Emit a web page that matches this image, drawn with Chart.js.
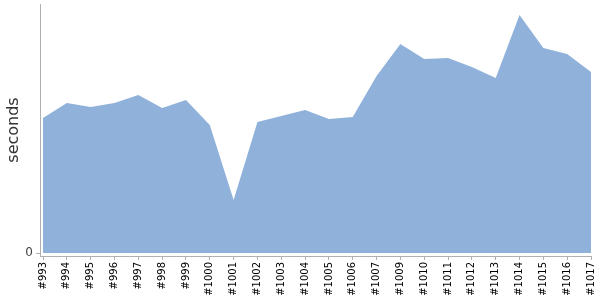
<!DOCTYPE html>
<html>
<head>
<meta charset="utf-8">
<script src="https://cdn.jsdelivr.net/npm/chart.js@4.4.0/dist/chart.umd.min.js"></script>
<style>
  html, body { margin: 0; padding: 0; background: #fff; }
  #wrap { width: 600px; height: 300px; }
</style>
</head>
<body>
<div id="wrap"><canvas id="buildChart"></canvas></div>
<script>
// build numbers (#1008 is missing in the trend)
const builds = ['#993', '#994', '#995', '#996', '#997', '#998', '#999', '#1000', '#1001', '#1002',
  '#1003', '#1004', '#1005', '#1006', '#1007', '#1009', '#1010', '#1011', '#1012', '#1013',
  '#1014', '#1015', '#1016', '#1017']
// duration, seconds
const durations = [135, 150, 146, 150, 158, 145, 153, 128, 53, 131,
  137, 143, 134, 136, 177, 209, 194, 195, 186, 175,
  238, 205, 199, 181]
const yTicks = [0]

const axisGray = '#b0b0b0'

new Chart(document.getElementById('buildChart'), {
  type: 'line',
  data: {
    datasets: [{
      data: durations.map((v, i) => ({ x: i, y: v })),
      backgroundColor: '#8fb1da',
      borderWidth: 0,
      pointRadius: 0,
      fill: 'origin',
      tension: 0
    }]
  },
  options: {
    responsive: true,
    maintainAspectRatio: false,
    animation: false,
    layout: { padding: { top: 4, right: 9, left: 0, bottom: 0 } },
    plugins: { legend: { display: false }, tooltip: { enabled: false } },
    scales: {
      x: {
        type: 'linear',
        min: -0.126,
        max: builds.length - 1,
        afterBuildTicks: (s) => { s.ticks = builds.map((b, i) => ({ value: i })) },
        afterFit: (s) => { s.height = 44; s.paddingLeft = 0; s.paddingRight = 0 },
        ticks: {
          autoSkip: false,
          minRotation: 90,
          maxRotation: 90,
          padding: 2,
          color: '#000',
          font: { family: 'DejaVu Sans', size: 10 },
          callback: (v) => builds[v]
        },
        grid: { drawOnChartArea: false, drawTicks: true, tickLength: 4, color: axisGray },
        border: { color: axisGray }
      },
      y: {
        min: -3,
        max: 249,
        afterBuildTicks: (s) => { s.ticks = yTicks.map(v => ({ value: v })) },
        afterFit: (s) => { s.width = 40; s.paddingTop = 0; s.paddingBottom = 0 },
        ticks: {
          color: '#444',
          padding: 3,
          font: { family: 'DejaVu Sans', size: 12 }
        },
        grid: { drawOnChartArea: false, drawTicks: true, tickLength: 4, color: axisGray },
        border: { color: axisGray },
        title: {
          display: true,
          text: 'seconds',
          color: '#333',
          padding: { top: 4, bottom: 0 },
          font: { family: 'DejaVu Sans', size: 16 }
        }
      }
    }
  }
})
</script>
</body>
</html>
